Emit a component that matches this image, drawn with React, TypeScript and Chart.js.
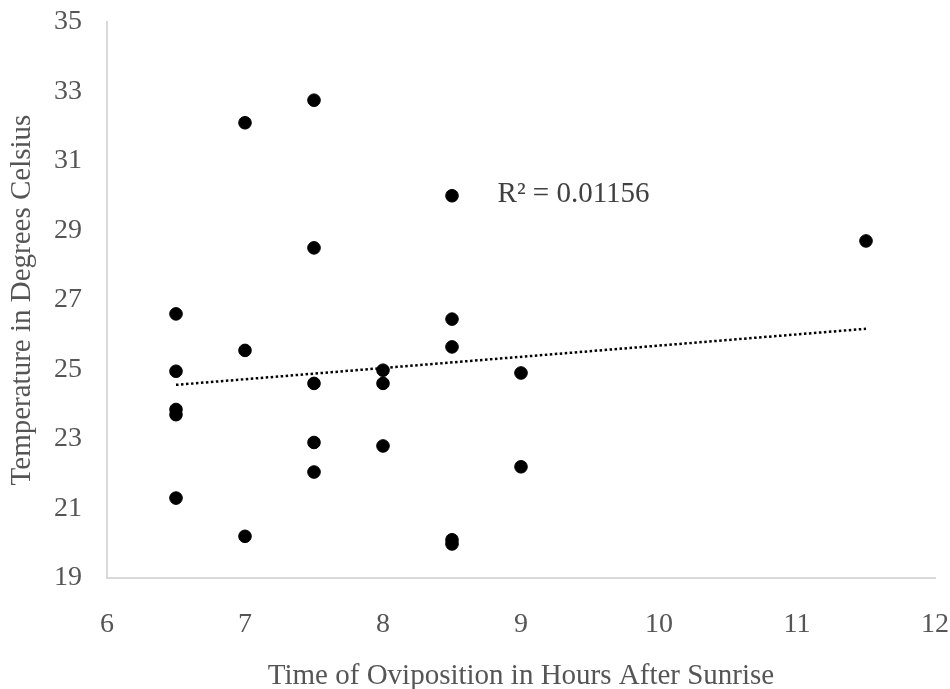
import React, { useEffect, useRef } from "react";
import { Chart, registerables } from "chart.js";

Chart.register(...registerables);

const timeHours = [6.5, 6.5, 6.5, 6.5, 6.5, 7, 7, 7, 7.5, 7.5, 7.5, 7.5, 7.5, 8, 8, 8, 8.5, 8.5, 8.5, 8.5, 8.5, 9, 9, 11.5];
const temperatureC = [26.6, 24.95, 23.85, 23.7, 21.3, 32.1, 25.55, 20.2, 32.75, 28.5, 24.6, 22.9, 22.05, 24.98, 24.6, 22.8, 30.0, 26.45, 25.65, 20.1, 19.98, 24.9, 22.2, 28.7];
const rSquaredLabel = "R² = 0.01156";
const xTicks = [6, 7, 8, 9, 10, 11, 12];
const yTicks = [19, 21, 23, 25, 27, 29, 31, 33, 35];

function trend() {
  const n = timeHours.length;
  const mx = timeHours.reduce((a, b) => a + b, 0) / n;
  const my = temperatureC.reduce((a, b) => a + b, 0) / n;
  let sxy = 0, sxx = 0;
  for (let i = 0; i < n; i++) {
    sxy += (timeHours[i] - mx) * (temperatureC[i] - my);
    sxx += (timeHours[i] - mx) ** 2;
  }
  const m = sxy / sxx;
  const b = my - m * mx;
  const x0 = Math.min(...timeHours);
  const x1 = Math.max(...timeHours);
  return [{ x: x0, y: m * x0 + b }, { x: x1, y: m * x1 + b }];
}

const labelPlugin = {
  id: "r2label",
  afterDatasetsDraw(chart: any) {
    const { ctx, scales } = chart;
    const px = scales.x.getPixelForValue(8.83);
    const py = scales.y.getPixelForValue(30.05);
    ctx.save();
    ctx.font = "29px 'Liberation Serif'";
    ctx.fillStyle = "#404040";
    ctx.textBaseline = "middle";
    ctx.textAlign = "left";
    ctx.fillText(rSquaredLabel, px, py);
    ctx.restore();
  },
};

export default function App() {
  const ref = useRef<HTMLCanvasElement>(null);
  useEffect(() => {
    if (!ref.current) return;
    const tickFont = { family: "'Liberation Serif'", size: 28 };
    const titleFont = { family: "'Liberation Serif'", size: 29 };
    const chart = new Chart(ref.current, {
      type: "scatter",
      data: {
        datasets: [
          {
            data: timeHours.map((x, i) => ({ x, y: temperatureC[i] })),
            backgroundColor: "#000",
            borderColor: "#000",
            pointRadius: 6.3,
            pointHoverRadius: 6.3,
          },
          {
            type: "line",
            data: trend(),
            borderColor: "#000",
            borderWidth: 2.5,
            borderDash: [2.5, 2.5],
            pointRadius: 0,
            fill: false,
          } as any,
        ],
      },
      options: {
        responsive: false,
        animation: false,
        layout: { padding: { top: 22, right: 15, left: 0, bottom: 0 } },
        plugins: { legend: { display: false }, tooltip: { enabled: false } },
        scales: {
          x: {
            type: "linear",
            min: 6,
            max: 12,
            afterBuildTicks: (s: any) => { s.ticks = xTicks.map((v) => ({ value: v })); },
            afterFit: (s: any) => { s.height = 111; s.paddingLeft = 0; s.paddingRight = 0; },
            grid: { display: false, drawTicks: false },
            border: { display: true, color: "#d9d9d9", width: 2 },
            ticks: { color: "#555555", font: tickFont, padding: 30, maxRotation: 0 },
            title: { display: true, text: "Time of Oviposition in Hours After Sunrise", color: "#555555", font: titleFont, padding: { top: 0, bottom: -5 } },
          },
          y: {
            type: "linear",
            min: 19,
            max: 35,
            afterBuildTicks: (s: any) => { s.ticks = yTicks.map((v) => ({ value: v })); },
            afterFit: (s: any) => { s.width = 107; s.paddingTop = 0; s.paddingBottom = 0; },
            grid: { display: false, drawTicks: false },
            border: { display: true, color: "#d9d9d9", width: 2 },
            ticks: { color: "#555555", font: tickFont, padding: 25 },
            title: { display: true, text: "Temperature in Degrees Celsius", color: "#555555", font: titleFont, padding: { top: 5, bottom: 0 } },
          },
        },
      },
      plugins: [labelPlugin],
    });
    return () => chart.destroy();
  }, []);
  return <canvas ref={ref} width={950} height={689} style={{ display: "block", position: "absolute", left: 0, top: 0 }} />;
}
